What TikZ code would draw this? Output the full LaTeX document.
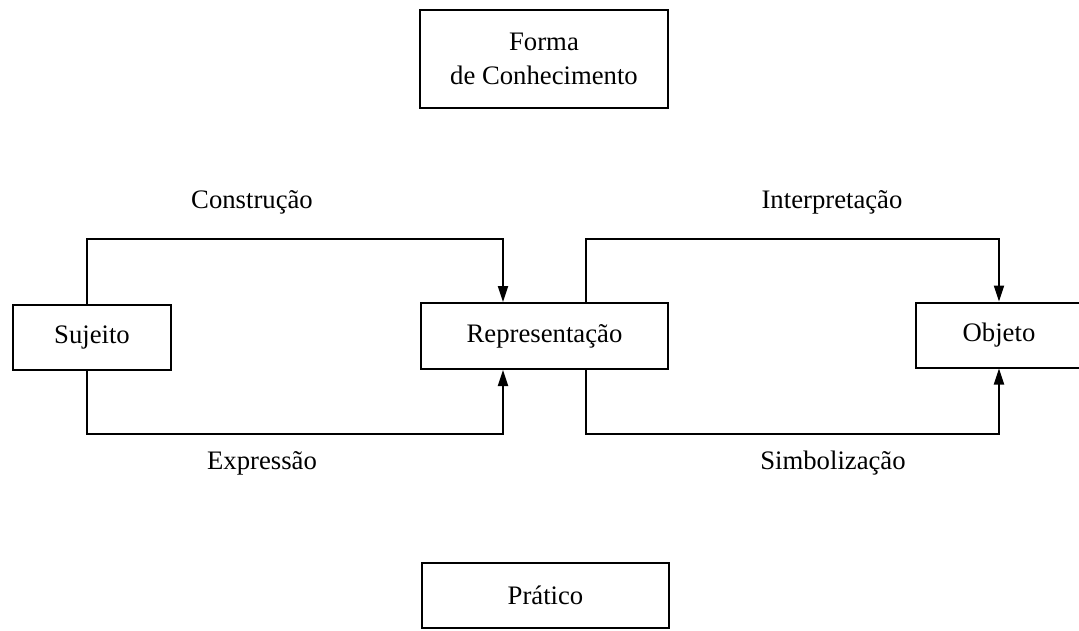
\documentclass[tikz,border=0pt]{standalone}
\usepackage{fontspec}
\setmainfont{Liberation Serif}
\usetikzlibrary{arrows.meta}
\begin{document}
\begin{tikzpicture}[x=1pt,y=-1pt,
  box/.style={draw,line width=2pt,inner sep=0pt,align=center,font=\fontsize{26.7}{34}\selectfont},
  lbl/.style={inner sep=0pt,anchor=base,font=\fontsize{26.7}{34}\selectfont},
  conn/.style={line width=2pt,-{Triangle[length=16pt,width=10pt]}}]
\fill[white] (0,0) rectangle (1079,630);
\useasboundingbox (0,0) rectangle (1079,630);
\clip (0,0) rectangle (1079,630);
% boxes
\node[box,minimum width=248pt,minimum height=98pt] (forma) at (544,59) {Forma\\de Conhecimento};
\node[box,minimum width=158pt,minimum height=65pt] (suj) at (92,337) {Sujeito};
\node[box,minimum width=247pt,minimum height=66pt] (rep) at (544.5,336) {Representação};
\node[box,minimum width=166pt,minimum height=65pt] (obj) at (999,335) {Objeto};
\node[box,minimum width=247pt,minimum height=65pt] (pra) at (545.5,595.5) {Prático};
% guide coordinates
\coordinate (top) at (0,239);
\coordinate (bot) at (0,434);
\coordinate (sx) at (87,0);
\coordinate (rl) at (503,0);
\coordinate (rr) at (586,0);
\coordinate (ox) at (999,0);
% connectors
\draw[conn] (suj.north -| sx) -- (sx |- top) -- (rl |- top) -- (rep.north -| rl);
\draw[conn] (suj.south -| sx) -- (sx |- bot) -- (rl |- bot) -- (rep.south -| rl);
\draw[conn] (rep.north -| rr) -- (rr |- top) -- (ox |- top) -- (obj.north -| ox);
\draw[conn] (rep.south -| rr) -- (rr |- bot) -- (ox |- bot) -- (obj.south -| ox);
% labels
\node[lbl] (l1) at (252,208) {Construção};
\node[lbl] (l2) at (262,469) {Expressão};
\node[lbl] (l3) at (832,208) {Interpretação};
\node[lbl] (l4) at (833,469) {Simbolização};
\end{tikzpicture}
\end{document}
